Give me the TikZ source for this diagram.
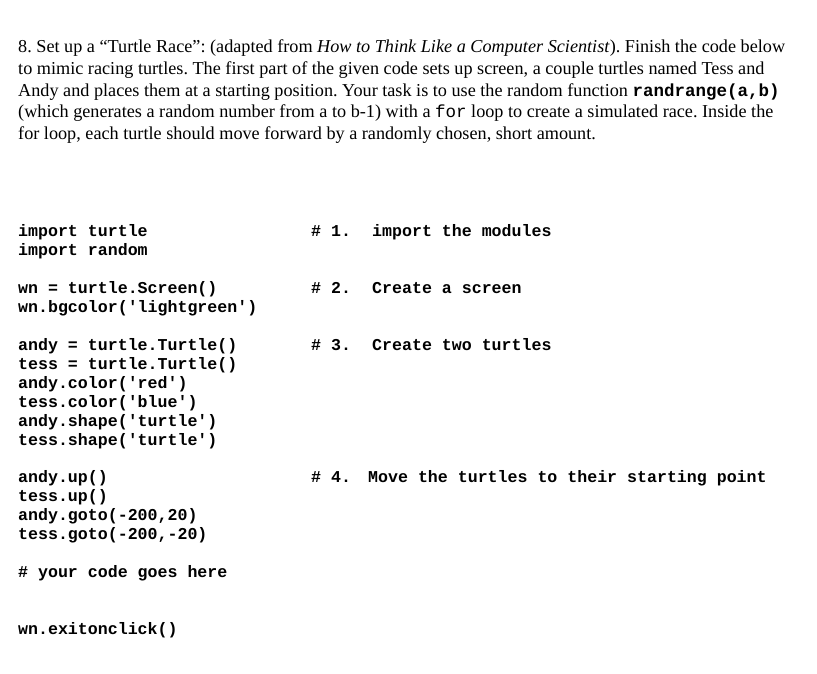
\documentclass[tikz,border=0pt]{standalone}
\usepackage{fontspec}
\setmainfont{Liberation Serif}
\setmonofont{Liberation Mono}
\begin{document}
\frenchspacing
\begin{tikzpicture}[x=1pt,y=-1pt,
  para/.style={anchor=base west,inner sep=0pt,font=\fontsize{18.2}{21}\selectfont},
  code/.style={anchor=base west,inner sep=0pt,font=\fontsize{16.6}{19}\selectfont\ttfamily\bfseries}]
\fill[white] (0,0) rectangle (817,673);
\node[para] (p1) at (18,52) {8.\ Set up a “Turtle Race”: (adapted from \textit{How to Think Like a Computer Scientist}). Finish the code below};
\node[para] (p2) at (18,74) {to mimic racing turtles. The first part of the given code sets up screen, a couple turtles named Tess and};
\node[para] (p3) at (18,96) {Andy and places them at a starting position. Your task is to use the random function {\fontsize{17.5}{21}\selectfont\ttfamily\bfseries randrange(a,b)}};
\node[para] (p4) at (18,117) {(which generates a random number from a to b-1) with a {\fontsize{17.5}{21}\selectfont\ttfamily for} loop to create a simulated race. Inside the};
\node[para] (p5) at (18,139) {for loop, each turtle should move forward by a randomly chosen, short amount.};
\foreach \t/\y [count=\i] in {import turtle/236,import random/255,
  wn = turtle.Screen()/293,wn.bgcolor('lightgreen')/312,
  andy = turtle.Turtle()/350,tess = turtle.Turtle()/369,andy.color('red')/388,
  tess.color('blue')/407,andy.shape('turtle')/426,tess.shape('turtle')/445,
  andy.up()/482,tess.up()/501,andy.goto(-200{,}20)/520,tess.goto(-200{,}-20)/539,
  \# your code goes here/577,wn.exitonclick()/634}
  \node[code] (c\i) at (18,\y) {\t};
\node[code] (k1) at (311,236) {\# 1.};
\node[code] (m1) at (372,236) {import the modules};
\node[code] (k2) at (311,293) {\# 2.};
\node[code] (m2) at (372,293) {Create a screen};
\node[code] (k3) at (311,350) {\# 3.};
\node[code] (m3) at (372,350) {Create two turtles};
\node[code] (k4) at (311,482) {\# 4.};
\node[code] (m4) at (368,482) {Move the turtles to their starting point};
\end{tikzpicture}
\end{document}
